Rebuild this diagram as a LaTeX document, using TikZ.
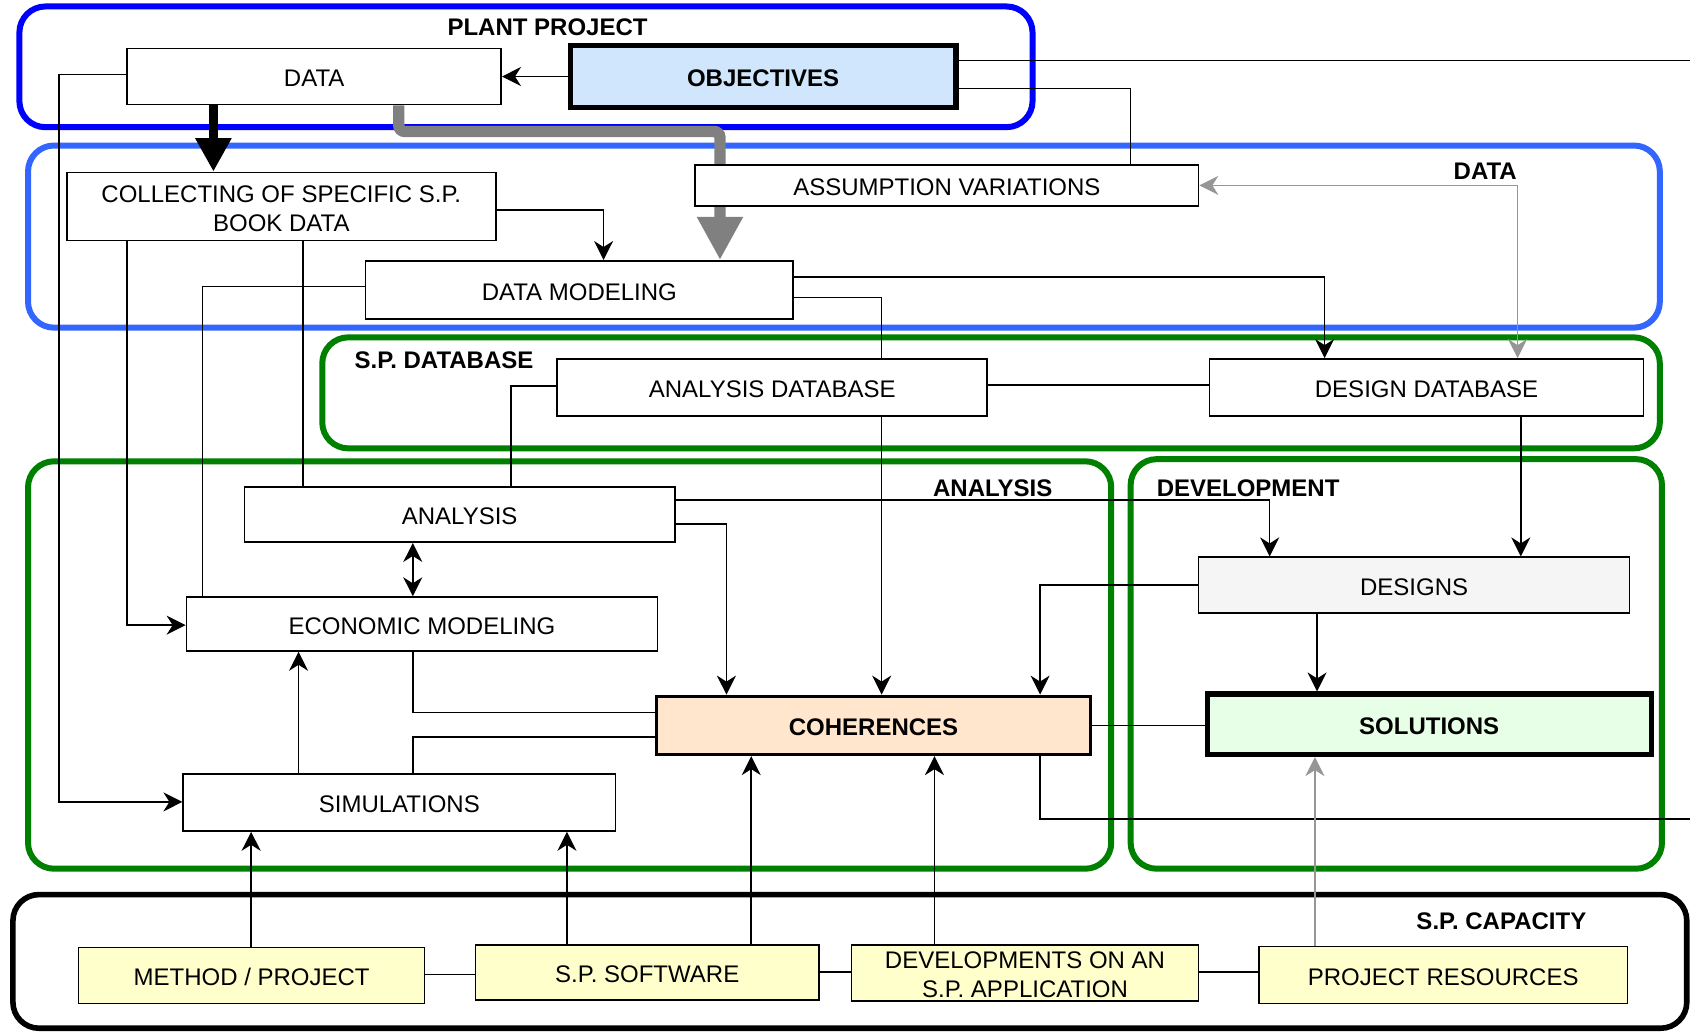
\documentclass[tikz,border=0pt]{standalone}
\usepackage{fontspec}
\setmainfont{Liberation Sans}
\usetikzlibrary{arrows.meta}
\pgfdeclarelayer{frames}
\pgfdeclarelayer{wires}
\pgfsetlayers{frames,wires,main}
\definecolor{pblue}{RGB}{0,0,255}
\definecolor{dblue}{RGB}{51,102,255}
\definecolor{grn}{RGB}{0,128,0}
\definecolor{objfill}{RGB}{207,230,252}
\definecolor{cohfill}{RGB}{255,230,205}
\definecolor{solfill}{RGB}{230,255,230}
\definecolor{desfill}{RGB}{245,245,245}
\definecolor{yel}{RGB}{255,255,204}
\definecolor{gryA}{RGB}{128,128,128}
\definecolor{gryB}{RGB}{150,150,150}
\newcommand\bx[7]{\node[#6, minimum width={(#4-#2)*0.5389pt}, minimum height={(#5-#3)*0.5389pt}] (#1) at ({(#2+#4)/2},{(#3+#5)/2}) {\raisebox{-5.2pt}[0pt][0pt]{\begin{tabular}[c]{@{}c@{}}#7\end{tabular}}};}
\tikzset{
  box/.style={draw, line width=0.8pt, fill=white, inner sep=0pt, font=\fontsize{12}{14.5}\selectfont},
  boldbox/.style={box, font=\bfseries\fontsize{12}{14.5}\selectfont},
  frame/.style={line width=3pt, rounded corners=13pt},
  grplabel/.style={font=\bfseries\fontsize{12}{14.4}\selectfont, inner sep=0pt},
  ln/.style={line width=0.8pt},
  arr/.style={ln, -{Stealth[length=9.5pt,width=9.5pt,inset=3pt]}},
  darr/.style={ln, {Stealth[length=9.5pt,width=9.5pt,inset=3pt]}-{Stealth[length=9.5pt,width=9.5pt,inset=3pt]}},
  garr/.style={arr, draw=gryB},
  gdarr/.style={darr, draw=gryB},
  bigarr/.style={line width=4.2pt, -{Triangle[length=16.7pt,width=17pt]}},
  grayarr/.style={line width=5.7pt, draw=gryA, -{Triangle[length=21.6pt,width=21.6pt]}, rounded corners=3pt},
}
\begin{document}
\begin{tikzpicture}[x=0.5389pt, y=-0.5389pt]
\useasboundingbox (0,0) rectangle (1568,956.6);

% frames
\begin{pgfonlayer}{frames}
  \draw[frame, draw=pblue] (18,6) rectangle (958,118);
  \draw[frame, draw=dblue] (26,135) rectangle (1540,304);
  \draw[frame, draw=grn] (299,313) rectangle (1540,416);
  \draw[frame, draw=grn] (26,428) rectangle (1031,806);
  \draw[frame, draw=grn] (1049,426) rectangle (1542,806);
  \draw[frame, draw=black, line width=2.8pt] (12,830) rectangle (1565,954);
\end{pgfonlayer}

% group labels
\node[grplabel] (lplant) at (508,25) {PLANT PROJECT};
\node[grplabel] (ldata) at (1378,159) {DATA};
\node[grplabel] (lspdb) at (412,334) {S.P. DATABASE};
\node[grplabel] (lanal) at (921,453) {ANALYSIS};
\node[grplabel] (ldev) at (1158,453) {DEVELOPMENT};
\node[grplabel] (lcap) at (1393,855) {S.P. CAPACITY};

% nodes
\bx{data}{118}{45}{465}{97}{box}{DATA}
\bx{obj}{529}{42}{887}{100}{boldbox, fill=objfill, line width=2.65pt}{OBJECTIVES}
\bx{coll}{62}{160}{460}{223}{box}{COLLECTING OF SPECIFIC S.P.\\BOOK DATA}
\bx{av}{645}{153}{1112}{191}{box}{ASSUMPTION VARIATIONS}
\bx{dm}{339}{242}{736}{296}{box}{DATA MODELING}
\bx{adb}{517}{333}{916}{386}{box}{ANALYSIS DATABASE}
\bx{ddb}{1122}{333}{1525}{386}{box}{DESIGN DATABASE}
\bx{an}{227}{452}{626}{503}{box}{ANALYSIS}
\bx{econ}{173}{554}{610}{604}{box}{ECONOMIC MODELING}
\bx{sim}{170}{718}{571}{771}{box}{SIMULATIONS}
\bx{coh}{609}{646}{1012}{700}{boldbox, fill=cohfill, line width=1.65pt}{COHERENCES}
\bx{des}{1112}{517}{1512}{569}{box, fill=desfill}{DESIGNS}
\bx{sol}{1120}{644}{1532}{700}{boldbox, fill=solfill, line width=2.65pt}{SOLUTIONS}
\bx{mp}{73}{879}{394}{931}{box, fill=yel}{METHOD / PROJECT}
\bx{sw}{441}{877}{760}{928}{box, fill=yel}{S.P. SOFTWARE}
\bx{dev}{790}{877}{1112}{929}{box, fill=yel}{DEVELOPMENTS ON AN\\S.P. APPLICATION}
\bx{pr}{1168}{878}{1510}{931}{box, fill=yel}{PROJECT RESOURCES}

\coordinate (edgeA) at (1568,56);
\coordinate (edgeB) at (1568,760);

% connectors
\begin{pgfonlayer}{wires}
  \draw[arr] (obj.west) -- (data.east);
  \draw[bigarr] (198,0 |- data.south) -- (198,0 |- coll.north);
  \draw[grayarr] (370,0 |- data.south) -- (370,122) -- (668,122) -- (668,0 |- dm.north);
  \draw[arr] (coll.east |- 0,195) -- (560,195) -- (560,0 |- dm.north);
  \draw[ln] (obj.east |- 0,82) -- (1049,82) -- (1049,0 |- av.north);
  \draw[ln] (obj.east |- 0,56) -- (edgeA);
  \draw[gdarr] (av.east) -- (1408,0 |- av.east) -- (1408,0 |- ddb.north);
  \draw[arr] (dm.east |- 0,257) -- (1229,257) -- (1229,0 |- ddb.north);
  \draw[arr] (dm.east |- 0,276) -- (818,276) -- (818,0 |- coh.north);
  \draw[ln] (dm.west |- 0,266) -- (188,266) -- (188,0 |- econ.north);
  \draw[arr] (118,0 |- coll.south) -- (118,580) -- (econ.west |- 0,580);
  \draw[ln] (281,0 |- coll.south) -- (281,0 |- an.north);
  \draw[arr] (data.west |- 0,69) -- (55,69) -- (55,744) -- (sim.west |- 0,744);
  \draw[ln] (adb.east |- 0,357) -- (ddb.west |- 0,357);
  \draw[ln] (adb.west |- 0,358) -- (474,358) -- (474,0 |- an.north);
  \draw[arr] (an.east |- 0,464) -- (1178,464) -- (1178,0 |- des.north);
  \draw[arr] (an.east |- 0,486) -- (674,486) -- (674,0 |- coh.north);
  \draw[darr] (383,0 |- an.south) -- (383,0 |- econ.north);
  \draw[arr] (277,0 |- sim.north) -- (277,0 |- econ.south);
  \draw[ln] (383,0 |- econ.south) -- (383,661) -- (coh.west |- 0,661);
  \draw[ln] (383,0 |- sim.north) -- (383,684) -- (coh.west |- 0,684);
  \draw[arr] (1411,0 |- ddb.south) -- (1411,0 |- des.north);
  \draw[arr] (des.west |- 0,543) -- (965,543) -- (965,0 |- coh.north);
  \draw[arr] (1222,0 |- des.south) -- (1222,0 |- sol.north);
  \draw[ln] (coh.east |- 0,673) -- (sol.west |- 0,673);
  \draw[ln] (965,0 |- coh.south) -- (965,760) -- (edgeB);
  \draw[ln] (mp.east |- 0,904) -- (sw.west |- 0,904);
  \draw[ln] (sw.east |- 0,902) -- (dev.west |- 0,902);
  \draw[ln] (dev.east |- 0,902) -- (pr.west |- 0,902);
  \draw[arr] (233,0 |- mp.north) -- (233,0 |- sim.south);
  \draw[arr] (526,0 |- sw.north) -- (526,0 |- sim.south);
  \draw[arr] (697,0 |- sw.north) -- (697,0 |- coh.south);
  \draw[arr] (867,0 |- dev.north) -- (867,0 |- coh.south);
  \draw[garr] (1220,0 |- pr.north) -- (1220,0 |- sol.south);
\end{pgfonlayer}
\end{tikzpicture}
\end{document}
